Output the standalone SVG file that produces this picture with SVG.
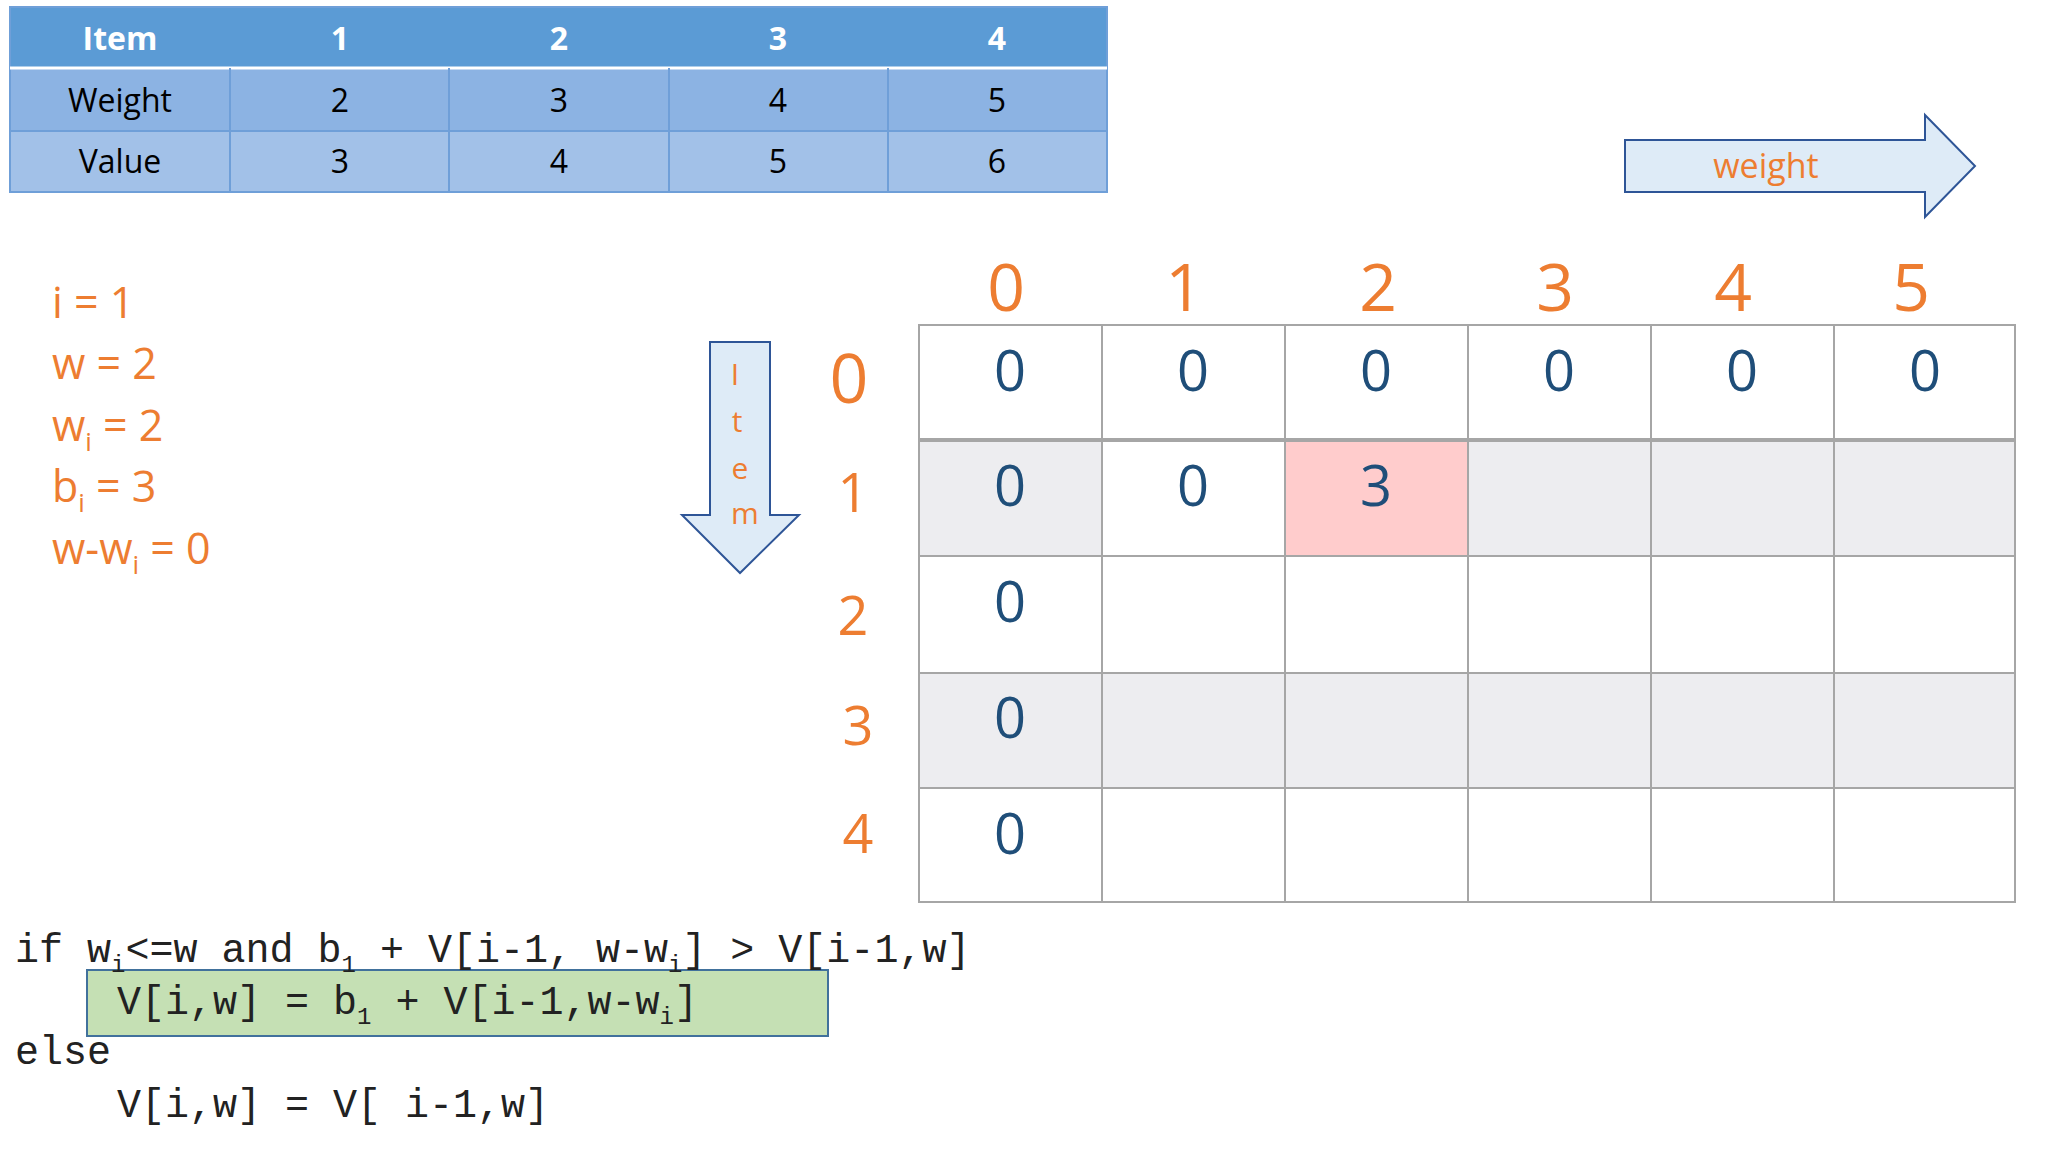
<svg xmlns="http://www.w3.org/2000/svg" width="2048" height="1152" viewBox="0 0 2048 1152">
<style>
.t{font-family:"Open Sans","Liberation Sans",sans-serif;text-anchor:middle}
.tb{font-size:32px;fill:#000}
.th{font-size:32px;fill:#fff;font-weight:bold}
.o{fill:#ed7d31;font-family:"Open Sans","Liberation Sans",sans-serif}
.cv{font-family:"Open Sans","Liberation Sans",sans-serif;font-size:56px;fill:#1f4e79;text-anchor:middle}
.m{font-family:"Liberation Mono",monospace;font-size:40px;fill:#222}
.g{stroke:#a6a6a6;stroke-width:2;fill:none}
</style>
<rect width="2048" height="1152" fill="#fff"/>
<g id="table">
<rect x="10" y="7" width="1097" height="61" fill="#5b9bd5"/>
<rect x="10" y="68" width="1097" height="63" fill="#8cb3e3"/>
<rect x="10" y="131" width="1097" height="61" fill="#a2c1e8"/>
<g stroke="#6f9fd8" stroke-width="2" fill="none">
<rect x="10" y="7" width="1097" height="185"/>
<line x1="10" y1="68" x2="1107" y2="68" stroke="#fff" stroke-width="3"/>
<line x1="10" y1="131" x2="1107" y2="131"/>
<line x1="230" y1="68" x2="230" y2="192"/><line x1="449" y1="68" x2="449" y2="192"/><line x1="669" y1="68" x2="669" y2="192"/><line x1="888" y1="68" x2="888" y2="192"/>
</g>
<g class="t th"><text x="120" y="50">Item</text><text x="340" y="50">1</text><text x="559" y="50">2</text><text x="778" y="50">3</text><text x="997" y="50">4</text></g>
<g class="t tb"><text x="120" y="112">Weight</text><text x="340" y="112">2</text><text x="559" y="112">3</text><text x="778" y="112">4</text><text x="997" y="112">5</text>
<text x="120" y="173">Value</text><text x="340" y="173">3</text><text x="559" y="173">4</text><text x="778" y="173">5</text><text x="997" y="173">6</text></g>
</g>
<g id="weight-arrow">
<path d="M1625 140 H1925 V115 L1975 166 L1925 217 V192 H1625 Z" fill="#deebf7" stroke="#2e5597" stroke-width="2"/>
<text class="o" x="1766" y="178" font-size="34" text-anchor="middle">weight</text>
</g>
<g id="item-arrow">
<path d="M710 342 H770 V515 H799 L740 573 L682 515 H710 Z" fill="#deebf7" stroke="#2e5597" stroke-width="2"/>
<g class="o" font-size="30" text-anchor="middle"><text x="735" y="385">I</text><text x="737" y="432">t</text><text x="740" y="479">e</text><text x="745" y="524">m</text></g>
</g>
<g id="vars" class="o" font-size="43">
<text x="52" y="318">i = 1</text>
<text x="52" y="379">w = 2</text>
<text x="52" y="441">w<tspan font-size="26" dy="10">i</tspan><tspan dy="-10"> = 2</tspan></text>
<text x="52" y="502">b<tspan font-size="26" dy="10">i</tspan><tspan dy="-10"> = 3</tspan></text>
<text x="52" y="564">w-w<tspan font-size="26" dy="10">i</tspan><tspan dy="-10"> = 0</tspan></text>
</g>
<g id="grid">
<rect x="919" y="440" width="1096" height="116" fill="#ededf0"/>
<rect x="919" y="673" width="1096" height="115" fill="#ededf0"/>
<rect x="1102" y="440" width="183" height="116" fill="#fff"/>
<rect x="1285" y="440" width="183" height="116" fill="#ffcccc"/>
<g class="g">
<rect x="919" y="325" width="1096" height="577"/>
<line x1="919" y1="556" x2="2015" y2="556"/><line x1="919" y1="673" x2="2015" y2="673"/><line x1="919" y1="788" x2="2015" y2="788"/>
<line x1="1102" y1="325" x2="1102" y2="902"/><line x1="1285" y1="325" x2="1285" y2="902"/><line x1="1468" y1="325" x2="1468" y2="902"/><line x1="1651" y1="325" x2="1651" y2="902"/><line x1="1834" y1="325" x2="1834" y2="902"/>
</g>
<line x1="919" y1="440" x2="2015" y2="440" stroke="#a6a6a6" stroke-width="4"/>
<g class="o" font-size="66" text-anchor="middle">
<text x="1006" y="311">0</text><text x="1184" y="311">1</text><text x="1378" y="311">2</text><text x="1555" y="311">3</text><text x="1733" y="311">4</text><text x="1911" y="311">5</text>
</g>
<g class="o" font-size="54" text-anchor="middle">
<text x="849" y="403" font-size="68">0</text><text x="853" y="512">1</text><text x="853" y="635">2</text><text x="858" y="745">3</text><text x="858" y="853">4</text>
</g>
<g>
<text class="cv" x="1010" y="391">0</text><text class="cv" x="1193" y="391">0</text><text class="cv" x="1376" y="391">0</text><text class="cv" x="1559" y="391">0</text><text class="cv" x="1742" y="391">0</text><text class="cv" x="1925" y="391">0</text>
<text class="cv" x="1010" y="506">0</text><text class="cv" x="1193" y="506">0</text><text class="cv" x="1376" y="506">3</text>
<text class="cv" x="1010" y="622">0</text><text class="cv" x="1010" y="738">0</text><text class="cv" x="1010" y="854">0</text>
</g>
</g>
<g id="code">
<rect x="87" y="970" width="741" height="66" fill="#c5e0b4" stroke="#41719c" stroke-width="2"/>
<text class="m" x="15" y="962">if w<tspan font-size="24" dy="10">i</tspan><tspan dy="-10">&lt;=w and b</tspan><tspan font-size="24" dy="10">1</tspan><tspan dy="-10"> + V[i-1, w-w</tspan><tspan font-size="24" dy="10">i</tspan><tspan dy="-10">] &gt; V[i-1,w]</tspan></text>
<text class="m" x="117" y="1014">V[i,w]  = b<tspan font-size="24" dy="10">1</tspan><tspan dy="-10"> + V[i-1,w-w</tspan><tspan font-size="24" dy="10">i</tspan><tspan dy="-10">]</tspan></text>
<text class="m" x="15" y="1064">else</text>
<text class="m" x="117" y="1117">V[i,w]  = V[ i-1,w]</text>
</g>
</svg>
